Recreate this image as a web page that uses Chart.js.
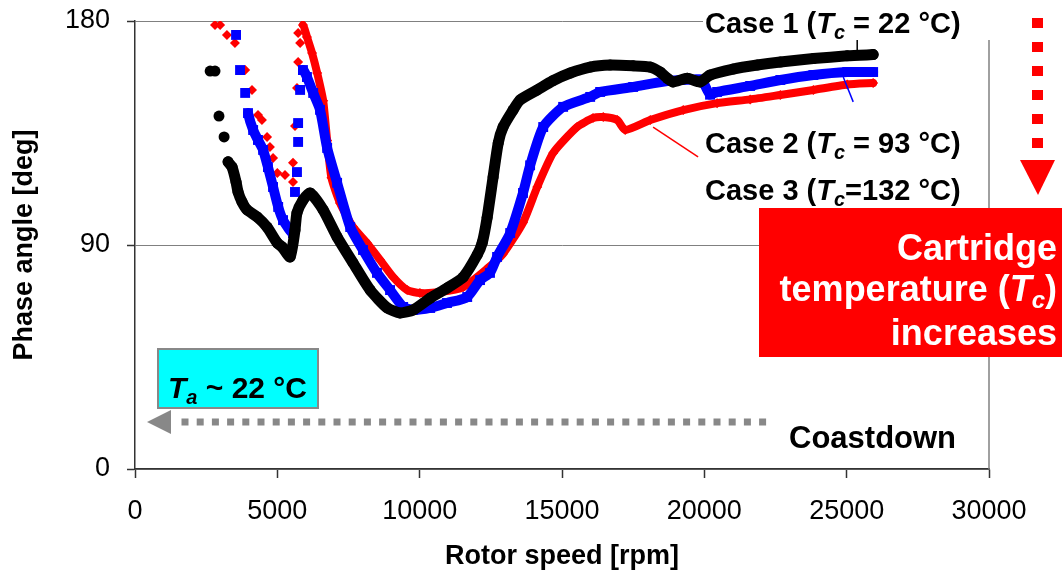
<!DOCTYPE html>
<html>
<head>
<meta charset="utf-8">
<script src="https://cdn.jsdelivr.net/npm/chart.js@4/dist/chart.umd.min.js"></script>
<style>
	html,body{margin:0;padding:0;background:#fff;}
	#phaseChart{display:block;}
</style>
</head>
<body>
<canvas id="phaseChart" width="1062" height="578"></canvas>
<script>
// Case 1 (Tc = 22 °C), black circles, coastdown order
const rpmCase1 = [25930, 25020, 23830, 22670, 21860, 21010, 20200, 19850, 19400, 18900, 18700, 18450, 18100, 17500, 16690, 15990, 15290, 14680, 14130, 13530, 13280, 12930, 12760, 12580, 12370, 12200, 12020, 11530, 10960, 10370, 9770, 9310, 8860, 8260, 7660, 7100, 6610, 6150, 5900, 5690, 5620, 5450, 5170, 5000, 4640, 4290, 3940, 3760, 3620, 3550, 3410, 3270, 3130, 2950, 2810, 2640];
const phaseCase1 = [166.5, 166, 164.9, 163.5, 162.3, 160.7, 158.3, 155.5, 157, 155.5, 157, 159.5, 161.5, 162, 162.3, 161.5, 159.1, 156, 152.3, 148.3, 144.2, 137.4, 131, 117.3, 101, 91, 86, 77.1, 72.7, 68.7, 63.9, 62.7, 64.7, 71.9, 82.8, 93.2, 104.1, 110.9, 108, 102.9, 96, 85.2, 89.2, 90.8, 97.2, 101.3, 104.1, 107.3, 111.3, 115.3, 121.3, 123.4, 133.4, 141.8, 159.9, 159.9];

// Case 2 (Tc = 93 °C), red diamonds
const rpmCase2 = [25930, 25020, 23830, 22670, 21610, 20450, 19260, 18100, 17220, 16940, 16450, 16090, 15530, 14690, 14130, 13630, 12930, 12370, 11530, 10720, 10010, 9560, 9070, 8610, 8150, 7660, 7200, 6900, 6750, 6610, 6400, 6220, 6040, 5900, 5730, 5800, 5730, 5690, 5620, 5550, 5550, 5270, 5000, 4850, 4740, 4640, 4460, 4320, 4110, 3870, 3510, 3230, 2990, 2810];
const phaseCase2 = [155.1, 154.5, 152.3, 150.3, 148.5, 147, 144.2, 140.2, 136.2, 140.2, 141.4, 141, 137.4, 127, 113.3, 99, 86.5, 80.5, 73.1, 71.1, 70.7, 71.9, 77.1, 84, 90.8, 97.2, 106.9, 117, 132, 148, 159.1, 167.1, 173.6, 178.4, 175.2, 171.2, 163.5, 153.1, 137.8, 123, 115.3, 118.1, 118.9, 125, 129.4, 133.4, 140.2, 142.2, 152.3, 160.3, 171.2, 174.4, 178.4, 178.4];

// Case 3 (Tc = 132 °C), blue squares
const rpmCase3 = [25930, 25020, 23830, 22670, 21610, 20450, 20200, 19960, 19850, 18700, 17500, 16340, 15990, 15040, 14340, 13880, 13630, 13180, 12720, 12470, 12120, 11670, 10960, 10370, 9770, 9420, 8960, 8500, 8010, 7560, 7100, 6750, 6500, 6260, 6040, 5900, 5800, 5730, 5730, 5690, 5620, 5550, 5200, 5030, 4850, 4670, 4500, 4320, 4150, 3970, 3870, 3690, 3550];
const phaseCase3 = [159.5, 159.5, 158.3, 156.3, 153.9, 151.5, 150.4, 155.5, 156.5, 155.9, 153.5, 151.5, 149.5, 145.5, 137.4, 122, 110.9, 94.8, 85.2, 78.8, 75.9, 69.1, 66.7, 64.7, 63.9, 65.1, 71.9, 78.8, 88, 97.2, 115, 129, 144.3, 151.1, 157.5, 160.3, 152.3, 139, 131.4, 119.3, 111.3, 94.8, 100, 105.3, 113.3, 121.3, 128.2, 132.2, 136.2, 143, 151.1, 160.3, 174.4];

const caseNames = ['Case 1', 'Case 2', 'Case 3'];
const caseTemps = [' = 22 °C)', ' = 93 °C)', '=132 °C)'];
const xTicks = [0, 5000, 10000, 15000, 20000, 25000, 30000];
const yTicks = [0, 90, 180];

const FONT = '"Liberation Sans", Arial, sans-serif';

class PhaseChart {
	constructor (){
		const _ = this;
		_.init();
	}

	points(xs, ys){
		return xs.map((x, i) => ({x: x, y: ys[i]}));
	}

	// draw line only between densely sampled points, the rest stays as markers
	solid(spans, color){
		return function (ctx){
			for (let i = 0; i < spans.length; i++) {
				if (ctx.p0DataIndex >= spans[i][0] && ctx.p1DataIndex <= spans[i][1]) return color;
			}
			return 'rgba(0,0,0,0)';
		}
	}

	fontFor(kind, size){
		if (kind === 's') return 'italic bold ' + Math.round(size * 0.68) + 'px ' + FONT;
		if (kind === 'i') return 'italic bold ' + size + 'px ' + FONT;
		return 'bold ' + size + 'px ' + FONT;
	}

	rich(ctx, parts, x, y, size, align){
		const _ = this;
		let widths = parts.map(p => { ctx.font = _.fontFor(p[1], size); return ctx.measureText(p[0]).width; });
		let total = widths.reduce((a, b) => a + b, 0);
		let cx = align === 'right' ? x - total : x;
		ctx.textAlign = 'left';
		ctx.textBaseline = 'alphabetic';
		parts.forEach((p, i) => {
			ctx.font = _.fontFor(p[1], size);
			ctx.fillText(p[0], cx, p[1] === 's' ? y + size * 0.2 : y);
			cx += widths[i];
		});
	}

	annotations(){
		const _ = this;
		return {
			id: 'annotations',
			beforeDatasetsDraw(chart){
				const ctx = chart.ctx, a = chart.chartArea;
				ctx.save();
				ctx.strokeStyle = '#808080';
				ctx.lineWidth = 1.5;
				ctx.beginPath();
				ctx.moveTo(a.right, a.top);
				ctx.lineTo(a.right, a.bottom);
				ctx.stroke();
				ctx.restore();
			},
			afterDraw(chart){
				const ctx = chart.ctx;
				const xs = chart.scales.x, ys = chart.scales.y;
				const px = v => xs.getPixelForValue(v), py = v => ys.getPixelForValue(v);
				ctx.save();

				// label boxes
				ctx.fillStyle = '#fff';
				ctx.fillRect(703, 0, 290, 40);

				// leader lines
				ctx.lineWidth = 1.5;
				ctx.strokeStyle = '#000';
				ctx.beginPath(); ctx.moveTo(px(25370), py(167.5)); ctx.lineTo(px(25370), 40); ctx.stroke();
				ctx.strokeStyle = '#0000ff';
				ctx.beginPath(); ctx.moveTo(px(24880), py(157.5)); ctx.lineTo(px(25230), py(147.5)); ctx.stroke();
				ctx.strokeStyle = '#ff0000';
				ctx.beginPath(); ctx.moveTo(px(18200), py(137.4)); ctx.lineTo(px(19780), py(125.4)); ctx.stroke();

				ctx.fillStyle = '#000';
				const baselines = [33, 153, 200];
				for (let i = 0; i < caseNames.length; i++) {
					_.rich(ctx, [[caseNames[i] + ' (', 'n'], ['T', 'i'], ['c', 's'], [caseTemps[i], 'n']], 705, baselines[i], 29, 'left');
				}

				// red dotted arrow
				ctx.fillStyle = '#ff0000';
				for (let y = 18; y < 150; y += 24) ctx.fillRect(1032, y, 11, 10);
				ctx.beginPath();
				ctx.moveTo(1020, 160); ctx.lineTo(1055, 160); ctx.lineTo(1038, 195);
				ctx.closePath(); ctx.fill();

				// red box
				ctx.fillRect(759, 208, 303, 149);
				ctx.fillStyle = '#fff';
				_.rich(ctx, [['Cartridge', 'n']], 1057, 260, 36, 'right');
				_.rich(ctx, [['temperature (', 'n'], ['T', 'i'], ['c', 's'], [')', 'n']], 1057, 301, 36, 'right');
				_.rich(ctx, [['increases', 'n']], 1057, 345, 36, 'right');

				// ambient box
				ctx.fillStyle = '#00ffff';
				ctx.fillRect(158, 349, 160, 59);
				ctx.strokeStyle = '#888';
				ctx.lineWidth = 2;
				ctx.strokeRect(158, 349, 160, 59);
				ctx.fillStyle = '#000';
				_.rich(ctx, [['T', 'i'], ['a', 's'], [' ~ 22 °C', 'n']], 168, 398, 30, 'left');

				// coastdown arrow
				ctx.fillStyle = '#888';
				for (let x = 185; x < 770; x += 15.2) ctx.fillRect(x - 3.5, 418.5, 7, 7);
				ctx.beginPath();
				ctx.moveTo(147, 422); ctx.lineTo(171, 410); ctx.lineTo(171, 434);
				ctx.closePath(); ctx.fill();
				ctx.fillStyle = '#000';
				_.rich(ctx, [['Coastdown', 'n']], 789, 448, 31, 'left');

				ctx.restore();
			}
		}
	}

	start(){
		const _ = this;
		const ctx = document.getElementById('phaseChart');
		const tickFont = {family: FONT, size: 27};
		const titleFont = {family: FONT, size: 27, weight: 'bold'};

		const myChart = new Chart(ctx, {
			type: 'scatter',
			data: {
				datasets: [{
					label: caseNames[0],
					data: _.points(rpmCase1, phaseCase1),
					backgroundColor: '#000000',
					borderColor: '#000000',
					pointStyle: 'circle',
					pointRadius: 5.5,
					borderWidth: 11,
					segment: {borderColor: _.solid([[0, 51]], '#000000')}
				}, {
					label: caseNames[2],
					data: _.points(rpmCase3, phaseCase3),
					backgroundColor: '#0000ff',
					borderColor: '#0000ff',
					pointStyle: 'rect',
					pointRadius: 7,
					borderWidth: 10,
					segment: {borderColor: _.solid([[0, 35], [41, 49]], '#0000ff')}
				}, {
					label: caseNames[1],
					data: _.points(rpmCase2, phaseCase2),
					backgroundColor: '#ff0000',
					borderColor: '#ff0000',
					pointStyle: 'rectRot',
					pointRadius: 5,
					borderWidth: 8,
					segment: {borderColor: _.solid([[0, 33]], '#ff0000')}
				}]
			},
			options: {
				responsive: false,
				animation: false,
				devicePixelRatio: 1,
				layout: {padding: {left: 0, top: 21, right: 73, bottom: 0}},
				datasets: {
					scatter: {
						showLine: true,
						tension: 0.2,
						pointBorderWidth: 0,
						pointHoverRadius: 5,
						borderJoinStyle: 'round',
						borderCapStyle: 'round'
					}
				},
				plugins: {
					legend: {display: false},
					tooltip: {enabled: false}
				},
				scales: {
					x: {
						type: 'linear',
						min: 0,
						max: 30000,
						afterBuildTicks: axis => { axis.ticks = xTicks.map(v => ({value: v})); },
						afterFit: scale => { scale.height = 109; scale.paddingLeft = 0; scale.paddingRight = 0; },
						ticks: {font: tickFont, color: '#000', padding: 17, maxRotation: 0, callback: v => String(v)},
						grid: {drawOnChartArea: false, tickLength: 9, tickColor: '#333', tickWidth: 1.5},
						border: {color: '#333', width: 1.5},
						title: {display: true, text: 'Rotor speed [rpm]', font: titleFont, color: '#000', padding: {bottom: 5}}
					},
					y: {
						min: 0,
						max: 180,
						afterBuildTicks: axis => { axis.ticks = yTicks.map(v => ({value: v})); },
						afterFit: scale => { scale.width = 135; scale.paddingTop = 0; scale.paddingBottom = 0; },
						ticks: {font: tickFont, color: '#000', padding: 17, callback: v => String(v)},
						grid: {color: '#808080', lineWidth: 1, tickLength: 8, tickColor: '#333', tickWidth: 1.5},
						border: {color: '#333', width: 1.5},
						title: {display: true, text: 'Phase angle [deg]', font: titleFont, color: '#000', padding: {top: 8}}
					}
				}
			},
			plugins: [_.annotations()]
		});
	}

	init(){
		const _ = this;
		_.start();
	}
}
new PhaseChart();
</script>
</body>
</html>
